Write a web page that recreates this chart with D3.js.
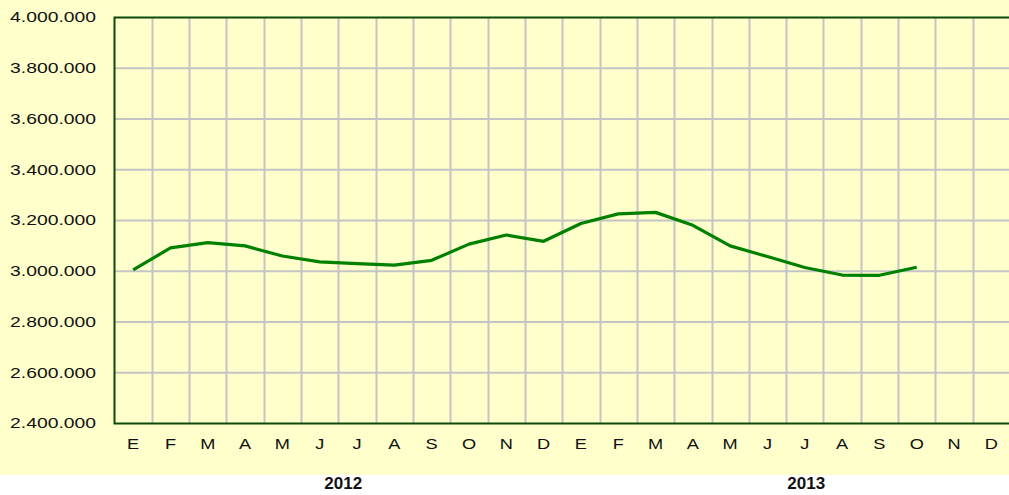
<!DOCTYPE html>
<html lang="es">
  <head>
    <meta charset="UTF-8" />
    <title>Serie mensual 2012-2013</title>
    <script src="https://d3js.org/d3.v7.min.js"></script>
    <style>
      body { margin: 0; background: #fff; }
      svg text { font-family: "Liberation Sans", Arial, sans-serif; fill: #111; }
      .grid line { stroke: #c4c4c4; stroke-width: 2; }
    </style>
  </head>
  <body>
    <svg width="1009" height="495"></svg>
    <script>
      // datos
      const years = ["2012", "2013"];
      const monthLabels = ["E", "F", "M", "A", "M", "J", "J", "A", "S", "O", "N", "D"];
      const values = [
        3005000, 3092000, 3113000, 3100000, 3060000, 3037000, 3030000, 3024000,
        3043000, 3107000, 3143000, 3118000,
        3188000, 3226000, 3232000, 3181000, 3100000, 3058000, 3015000, 2985000,
        2984000, 3016000
      ];
      const yTicks = [2400000, 2600000, 2800000, 3000000, 3200000, 3400000, 3600000, 3800000, 4000000];

      const svg = d3.select("svg");
      const plotL = 114.5, plotR = 1010, plotT = 17.5, plotB = 423.5;

      // indices 0..23 for the two years
      const slots = d3.range(years.length * monthLabels.length);

      const x = d3.scaleBand().domain(slots).range([plotL, plotR]);
      const y = d3.scaleLinear().domain([2400000, 4000000]).range([plotB, plotT]);

      svg.append("rect")
        .attr("x", 0).attr("y", 0)
        .attr("width", 1009).attr("height", 475)
        .attr("fill", "#ffffcc");

      const fmt = d => d3.format(",")(d).replace(/,/g, ".");

      // grid
      const grid = svg.append("g").attr("class", "grid");
      grid.selectAll(".v")
        .data(slots.slice(1))
        .enter()
        .append("line")
        .attr("x1", d => Math.round(x(d)) + 0.5)
        .attr("x2", d => Math.round(x(d)) + 0.5)
        .attr("y1", plotT)
        .attr("y2", plotB);
      grid.selectAll(".h")
        .data(yTicks.slice(1, -1))
        .enter()
        .append("line")
        .attr("x1", plotL)
        .attr("x2", plotR)
        .attr("y1", d => y(d))
        .attr("y2", d => y(d));

      // axes frame
      svg.append("path")
        .attr("d", `M${plotR},${plotT}H${plotL}V${plotB}H${plotR}`)
        .attr("fill", "none")
        .attr("stroke", "#0b4a0b")
        .attr("stroke-width", 2);

      // y labels (the original text is drawn wide)
      svg.selectAll(".ylab")
        .data(yTicks)
        .enter()
        .append("text")
        .attr("transform", d => `translate(96,${y(d)}) scale(1.38,1)`)
        .attr("dy", "0.35em")
        .attr("text-anchor", "end")
        .style("font-size", "14px")
        .text(fmt);

      // month labels
      svg.selectAll(".mlab")
        .data(slots)
        .enter()
        .append("text")
        .attr("transform", d => `translate(${x(d) + x.bandwidth() / 2},444) scale(1.3,1)`)
        .attr("dy", "0.35em")
        .attr("text-anchor", "middle")
        .style("font-size", "14px")
        .text(d => monthLabels[d % 12]);

      // year labels
      const yearPos = [6.13, 18.54];
      svg.selectAll(".ylabel")
        .data(years)
        .enter()
        .append("text")
        .attr("x", (d, i) => plotL + yearPos[i] * x.step())
        .attr("y", 483)
        .attr("dy", "0.35em")
        .attr("text-anchor", "middle")
        .style("font-size", "17px")
        .style("font-weight", "bold")
        .text(d => d);

      // line
      const line = d3.line()
        .x((d, i) => x(i) + x.bandwidth() / 2)
        .y(d => y(d));

      svg.append("path")
        .datum(values)
        .attr("d", line)
        .attr("fill", "none")
        .attr("stroke", "#008000")
        .attr("stroke-width", 3.2)
        .attr("stroke-linejoin", "round");
    </script>
  </body>
</html>
